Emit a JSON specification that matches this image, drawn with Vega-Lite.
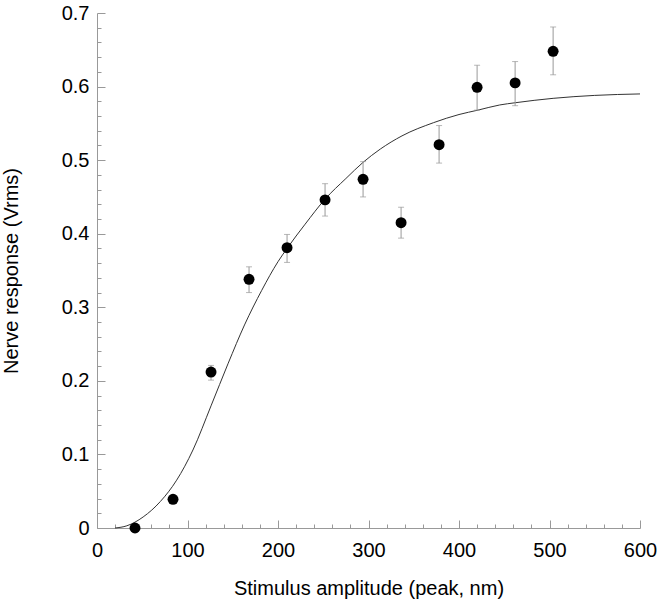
{
  "$schema": "https://vega.github.io/schema/vega-lite/v6.json",
  "description": "Nerve response vs stimulus amplitude with fitted curve",
  "width": 543,
  "height": 515,
  "autosize": {"type": "none"},
  "padding": {"left": 97, "top": 13, "right": 19, "bottom": 72},
  "background": "white",
  "config": {
    "view": {"stroke": null},
    "font": "Liberation Sans",
    "axis": {
      "grid": false,
      "domainColor": "#999999",
      "tickColor": "#999999",
      "labelColor": "black",
      "titleColor": "black",
      "labelFont": "Liberation Sans",
      "titleFont": "Liberation Sans",
      "labelFontSize": 20,
      "titleFontSize": 20,
      "titleFontWeight": "normal",
      "labelOverlap": false,
      "labelFlush": false,
      "tickCount": 100
    }
  },
  "datasets": {
    "points": [
      {"amp": 42, "resp": 0.000},
      {"amp": 84, "resp": 0.039},
      {"amp": 126, "resp": 0.212, "lo": 0.201, "hi": 0.221},
      {"amp": 168, "resp": 0.338, "lo": 0.320, "hi": 0.355},
      {"amp": 210, "resp": 0.381, "lo": 0.361, "hi": 0.399},
      {"amp": 252, "resp": 0.446, "lo": 0.424, "hi": 0.468},
      {"amp": 294, "resp": 0.474, "lo": 0.450, "hi": 0.498},
      {"amp": 336, "resp": 0.415, "lo": 0.394, "hi": 0.436},
      {"amp": 378, "resp": 0.521, "lo": 0.496, "hi": 0.547},
      {"amp": 420, "resp": 0.599, "lo": 0.568, "hi": 0.629},
      {"amp": 462, "resp": 0.605, "lo": 0.574, "hi": 0.634},
      {"amp": 504, "resp": 0.648, "lo": 0.616, "hi": 0.681}
    ],
    "curve": [
      {"amp": 20, "fit": 0.000},
      {"amp": 33, "fit": 0.003},
      {"amp": 51, "fit": 0.015},
      {"amp": 70, "fit": 0.036},
      {"amp": 88, "fit": 0.065},
      {"amp": 106, "fit": 0.106},
      {"amp": 126, "fit": 0.166},
      {"amp": 145, "fit": 0.224},
      {"amp": 163, "fit": 0.276},
      {"amp": 182, "fit": 0.323},
      {"amp": 200, "fit": 0.362},
      {"amp": 210, "fit": 0.380},
      {"amp": 230, "fit": 0.413},
      {"amp": 252, "fit": 0.447},
      {"amp": 275, "fit": 0.475},
      {"amp": 294, "fit": 0.497},
      {"amp": 313, "fit": 0.515},
      {"amp": 337, "fit": 0.533},
      {"amp": 372, "fit": 0.551},
      {"amp": 400, "fit": 0.562},
      {"amp": 421, "fit": 0.568},
      {"amp": 445, "fit": 0.575},
      {"amp": 462, "fit": 0.578},
      {"amp": 504, "fit": 0.584},
      {"amp": 550, "fit": 0.588},
      {"amp": 600, "fit": 0.590}
    ]
  },
  "layer": [
    {
      "data": {"name": "curve"},
      "mark": {"type": "line", "color": "#333333", "strokeWidth": 1, "interpolate": "monotone"},
      "encoding": {
        "x": {
          "field": "amp",
          "type": "quantitative",
          "title": "Stimulus amplitude (peak, nm)",
          "scale": {"domain": [0, 600], "nice": false},
          "axis": {
            "values": [0, 20, 40, 60, 80, 100, 120, 140, 160, 180, 200, 220, 240, 260, 280, 300, 320, 340, 360, 380, 400, 420, 440, 460, 480, 500, 520, 540, 560, 580, 600],
            "tickCount": 100,
            "labelExpr": "datum.value % 100 == 0 ? datum.label : ''",
            "tickSize": {"condition": {"test": "datum.value % 100 == 0", "value": -8}, "value": -4},
            "labelPadding": 20,
            "titlePadding": 14
          }
        },
        "y": {
          "field": "fit",
          "type": "quantitative",
          "title": "Nerve response (Vrms)",
          "scale": {"domain": [0, 0.7], "nice": false},
          "axis": {
            "values": [0, 0.02, 0.04, 0.06, 0.08, 0.1, 0.12, 0.14, 0.16, 0.18, 0.2, 0.22, 0.24, 0.26, 0.28, 0.3, 0.32, 0.34, 0.36, 0.38, 0.4, 0.42, 0.44, 0.46, 0.48, 0.5, 0.52, 0.54, 0.56, 0.58, 0.6, 0.62, 0.64, 0.66, 0.68, 0.7],
            "tickCount": 100,
            "format": ".1~f",
            "labelExpr": "abs(datum.value * 10 - round(datum.value * 10)) < 0.001 ? datum.label : ''",
            "tickSize": {"condition": {"test": "abs(datum.value * 10 - round(datum.value * 10)) < 0.001", "value": -8}, "value": -4},
            "labelPadding": 16,
            "titlePadding": 40
          }
        }
      }
    },
    {
      "data": {"name": "points"},
      "transform": [{"filter": "isValid(datum.lo)"}],
      "mark": {"type": "rule", "color": "#999999", "strokeWidth": 1},
      "encoding": {
        "x": {"field": "amp", "type": "quantitative"},
        "y": {"field": "lo", "type": "quantitative"},
        "y2": {"field": "hi"}
      }
    },
    {
      "data": {"name": "points"},
      "transform": [{"filter": "isValid(datum.lo)"}],
      "mark": {"type": "tick", "color": "#999999", "orient": "horizontal", "size": 6, "thickness": 1},
      "encoding": {
        "x": {"field": "amp", "type": "quantitative"},
        "y": {"field": "lo", "type": "quantitative"}
      }
    },
    {
      "data": {"name": "points"},
      "transform": [{"filter": "isValid(datum.hi)"}],
      "mark": {"type": "tick", "color": "#999999", "orient": "horizontal", "size": 6, "thickness": 1},
      "encoding": {
        "x": {"field": "amp", "type": "quantitative"},
        "y": {"field": "hi", "type": "quantitative"}
      }
    },
    {
      "data": {"name": "points"},
      "mark": {"type": "circle", "color": "black", "opacity": 1, "size": 120},
      "encoding": {
        "x": {"field": "amp", "type": "quantitative"},
        "y": {"field": "resp", "type": "quantitative"}
      }
    }
  ]
}
